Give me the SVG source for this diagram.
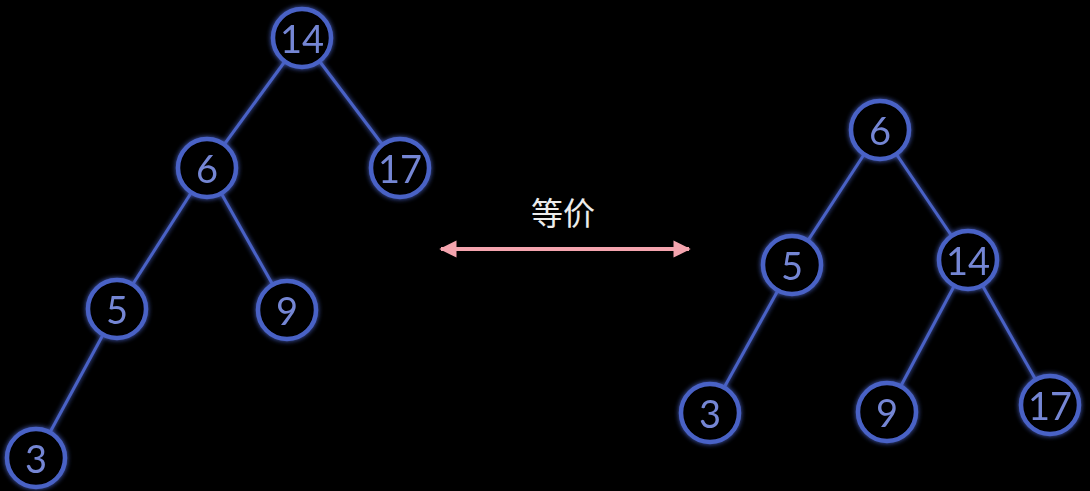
<svg xmlns="http://www.w3.org/2000/svg" width="1090" height="491" viewBox="0 0 1090 491">
<style>
.node circle{fill:#000;stroke:#4a62c6;stroke-width:4.5}
.node text{fill:#7486d4;font-family:Lato,"Open Sans",sans-serif;font-size:38px;text-anchor:middle;dominant-baseline:central}
.edges line{stroke:#4a62c6;stroke-width:3}
.label{fill:#ececec;font-family:"Noto Sans CJK SC",sans-serif;font-size:32px;text-anchor:middle}
</style>
<defs>
<filter id="glow" x="-30%" y="-30%" width="160%" height="160%">
<feGaussianBlur in="SourceGraphic" stdDeviation="2.5" result="b"/>
<feMerge><feMergeNode in="b"/><feMergeNode in="SourceGraphic"/></feMerge>
</filter>
<marker id="ah" viewBox="0 0 10 10" refX="9" refY="5" markerWidth="4.6" markerHeight="4.3" orient="auto-start-reverse" markerUnits="strokeWidth">
<path d="M0,0 L10,5 L0,10 z" fill="#f4a4ae"/>
</marker>
</defs>
<rect width="1090" height="491" fill="#000"/>
<g class="edges" filter="url(#glow)">
<line x1="302" y1="38" x2="207" y2="168"/>
<line x1="302" y1="38" x2="400" y2="168"/>
<line x1="207" y1="168" x2="117" y2="309"/>
<line x1="207" y1="168" x2="287" y2="310"/>
<line x1="117" y1="309" x2="36" y2="458"/>
<line x1="880" y1="130" x2="792" y2="265"/>
<line x1="880" y1="130" x2="968" y2="260"/>
<line x1="792" y1="265" x2="710" y2="413"/>
<line x1="968" y1="260" x2="887" y2="412"/>
<line x1="968" y1="260" x2="1050" y2="405"/>
</g>
<g id="L14" class="node" filter="url(#glow)"><circle cx="302" cy="38" r="29"/><text x="302" y="38">14</text></g>
<g id="L6" class="node" filter="url(#glow)"><circle cx="207" cy="168" r="29"/><text x="207" y="168">6</text></g>
<g id="L17" class="node" filter="url(#glow)"><circle cx="400" cy="168" r="29"/><text x="400" y="168">17</text></g>
<g id="L5" class="node" filter="url(#glow)"><circle cx="117" cy="309" r="29"/><text x="117" y="309">5</text></g>
<g id="L9" class="node" filter="url(#glow)"><circle cx="287" cy="310" r="29"/><text x="287" y="310">9</text></g>
<g id="L3" class="node" filter="url(#glow)"><circle cx="36" cy="458" r="29"/><text x="36" y="458">3</text></g>
<g id="R6" class="node" filter="url(#glow)"><circle cx="880" cy="130" r="29"/><text x="880" y="130">6</text></g>
<g id="R5" class="node" filter="url(#glow)"><circle cx="792" cy="265" r="29"/><text x="792" y="265">5</text></g>
<g id="R14" class="node" filter="url(#glow)"><circle cx="968" cy="260" r="29"/><text x="968" y="260">14</text></g>
<g id="R3" class="node" filter="url(#glow)"><circle cx="710" cy="413" r="29"/><text x="710" y="413">3</text></g>
<g id="R9" class="node" filter="url(#glow)"><circle cx="887" cy="412" r="29"/><text x="887" y="412">9</text></g>
<g id="R17" class="node" filter="url(#glow)"><circle cx="1050" cy="405" r="29"/><text x="1050" y="405">17</text></g>
<g id="equiv">
<line x1="441" y1="249" x2="689" y2="249" stroke="#f4a4ae" stroke-width="4" marker-start="url(#ah)" marker-end="url(#ah)"/>
<text class="label" x="563" y="225">等价</text>
</g>
</svg>
